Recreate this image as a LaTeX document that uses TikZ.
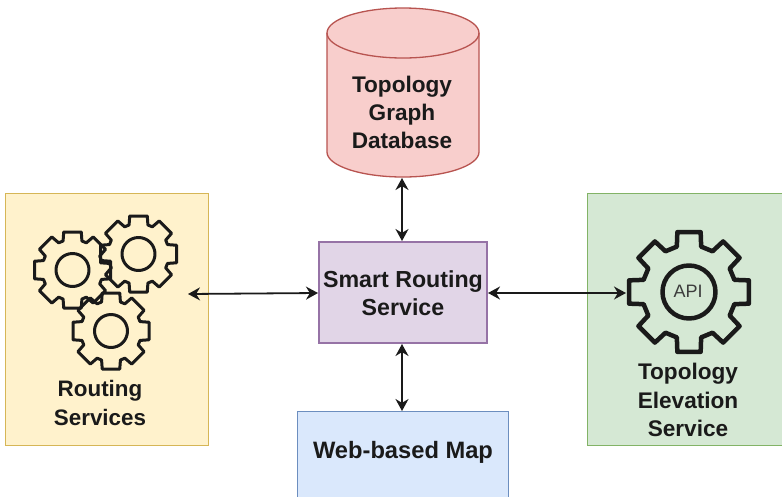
\documentclass[tikz,border=0pt]{standalone}
\usepackage{fontspec}
\setmainfont{Liberation Sans}
\definecolor{ylwF}{HTML}{FFF2CC}\definecolor{ylwD}{HTML}{D6B656}
\definecolor{grnF}{HTML}{D5E8D4}\definecolor{grnD}{HTML}{82B366}
\definecolor{purF}{HTML}{E1D5E7}\definecolor{purD}{HTML}{9673A6}
\definecolor{bluF}{HTML}{DAE8FC}\definecolor{bluD}{HTML}{6C8EBF}
\definecolor{redF}{HTML}{F8CECC}\definecolor{redD}{HTML}{B85450}
\definecolor{ink}{HTML}{1A1A1A}
\usetikzlibrary{arrows.meta}
\tikzset{
  panel/.style={draw=#1,line width=1.3pt,anchor=north west,inner sep=0pt,outer sep=0pt},
  label/.style={text=ink,font=\fontsize{#1}{28.2}\selectfont\bfseries,align=center,inner sep=0pt},
  label/.default=23,
  link/.style={{Stealth[length=12pt,width=13pt]}-{Stealth[length=12pt,width=13pt]},line width=1.8pt,ink},
  gearline/.style={draw=ink,line width=#1,line join=round}
}
% centre x, centre y, outer r, root r, half angle outer, half angle root, hole r, line width
\newcommand{\gearshape}[8]{%
  \begin{scope}[shift={(#1,#2)}]
    \draw[gearline=#8] (90-#6:#4) foreach \k in {0,...,7} {
      -- ({90-#5+\k*45}:#3) -- ({90+#5+\k*45}:#3) -- ({90+#6+\k*45}:#4)
      -- ({90+45-#6+\k*45}:#4) } -- cycle;
    \draw[gearline=#8] (0,0) circle (#7);
  \end{scope}}
\begin{document}
\begin{tikzpicture}[x=1pt,y=-1pt]
\useasboundingbox (0,0) rectangle (782,496);
\fill[white] (0,0) rectangle (782,496);
% boxes
\node[panel=ylwD,fill=ylwF,minimum width=203pt,minimum height=252pt] (routing) at (5.5,193.5) {};
\node[panel=grnD,fill=grnF,minimum width=200pt,minimum height=252pt] (elevation) at (587.5,193.5) {};
\node[panel=purD,fill=purF,minimum width=168pt,minimum height=101pt] (smart) at (319,242) {};
\node[panel=bluD,fill=bluF,minimum width=211pt,minimum height=90pt] (web) at (297.5,411.5) {};
% cylinder
\draw[draw=redD,fill=redF,line width=1.3pt]
  (327,33) arc[start angle=180,end angle=360,x radius=76,y radius=25]
  -- (479,152) arc[start angle=0,end angle=180,x radius=76,y radius=25] -- cycle;
\draw[draw=redD,line width=1.3pt] (327,33) arc[start angle=180,end angle=0,x radius=76,y radius=25];
\node[minimum width=152pt,minimum height=169pt,inner sep=0pt,outer sep=0pt] (db) at (403,92.5) {};
% gears
\gearshape{72.5}{270}{39}{30.5}{13}{18}{16.5}{3pt}
\gearshape{138.5}{254}{39}{30.5}{13}{18}{16.5}{3pt}
\gearshape{111}{331}{39}{30.5}{13}{18}{16.5}{3pt}
\gearshape{689}{292}{61}{47}{11}{15}{26.5}{4.5pt}
% free ends of the connectors that stop at the icons
\coordinate (routingEnd) at (188,294);
\coordinate (elevationEnd) at (626,293);
% labels
\node[label=22.6] (t1) at (402,112.5) {Topology\\Graph\\Database};
\node[label=23.2] (t2) at (403,293) {Smart Routing\\Service};
\node[label=23.7] (t3) at (403,452.5) {Web-based Map};
\node[label=22.4] (t4) at (100,403) {Routing\\Services};
\node[label=22.6] (t5) at (688,400) {Topology\\Elevation\\Service};
\node[text=ink!85,font=\fontsize{18}{20}\selectfont,inner sep=0pt] (api) at (688,291) {API};
% connectors
\draw[link] (402,178) -- (402,241);
\draw[link] (402,344) -- (402,411);
\draw[link] (routingEnd) -- (318,293);
\draw[link] (488,293) -- (elevationEnd);
\end{tikzpicture}
\end{document}
